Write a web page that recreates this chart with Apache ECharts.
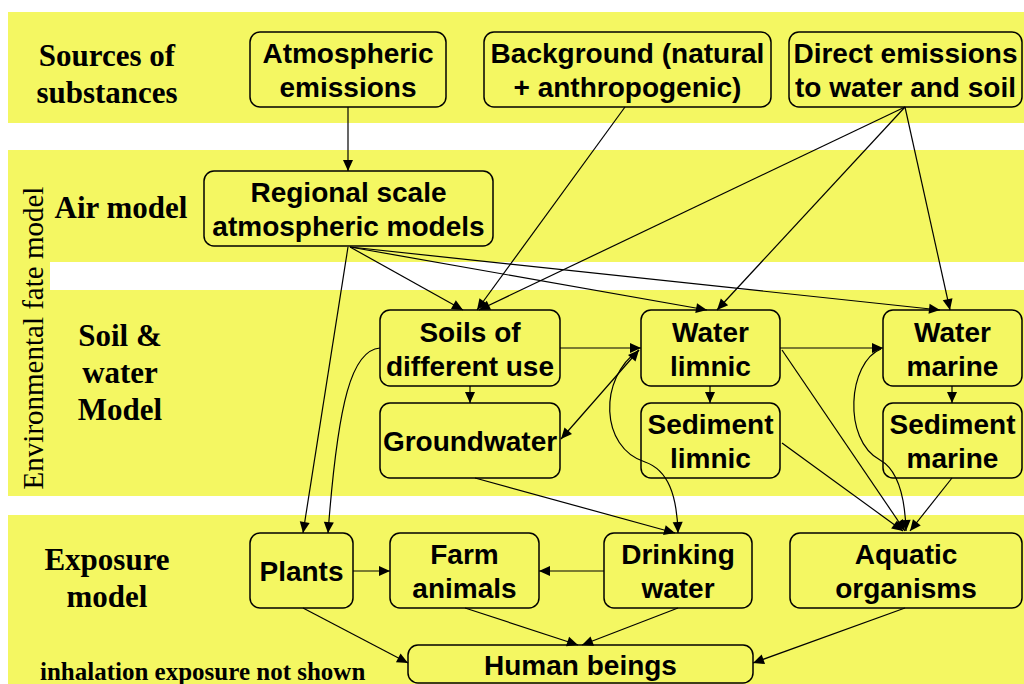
<!DOCTYPE html>
<html>
<head>
<meta charset="utf-8">
<script src="https://cdn.jsdelivr.net/npm/echarts@6/dist/echarts.min.js"></script>
<style>
  html, body { margin: 0; padding: 0; background: #fff; }
  #main { width: 1024px; height: 684px; }
</style>
</head>
<body>
<div id="main"></div>
<script>
  // ---- content ----
  var boxLabels = [
    'Atmospheric\nemissions', 'Background (natural\n+ anthropogenic)', 'Direct emissions\nto water and soil',
    'Regional scale\natmospheric models',
    'Soils of\ndifferent use', 'Groundwater', 'Water\nlimnic', 'Sediment\nlimnic', 'Water\nmarine', 'Sediment\nmarine',
    'Plants', 'Farm\nanimals', 'Drinking\nwater', 'Aquatic\norganisms', 'Human beings'
  ]
  var rowLabels = ['Sources of\nsubstances', 'Air model', 'Soil &\nwater\nModel', 'Exposure\nmodel']
  var sideLabel = 'Environmental fate model'
  var footNote = 'inhalation exposure not shown'

  // flows between boxes: [from, to]
  var links = [
    [0, 3], [1, 4], [2, 4], [2, 6], [2, 8],
    [3, 10], [3, 4], [3, 6], [3, 8],
    [4, 6], [4, 5], [5, 6], [6, 7], [6, 8], [8, 9],
    [5, 12], [6, 13], [7, 13], [9, 13],
    [10, 11], [12, 11], [10, 14], [11, 14], [12, 14], [13, 14],
    [4, 10], [6, 12], [8, 13]
  ]

  // ---- layout (chart coords, y down) ----
  var bandRects = [
    [8, 12, 1024, 123], [8, 150, 1024, 262], [8, 262, 50, 290], [8, 290, 1024, 496], [8, 515, 1024, 684]
  ]
  var boxRects = [
    [250, 32, 446, 107], [484, 32, 771, 107], [789, 32, 1022, 107],
    [204, 171, 493, 246],
    [380, 310, 560, 386], [380, 403, 560, 478], [641, 310, 780, 386], [641, 403, 780, 478],
    [883, 310, 1022, 386], [883, 403, 1022, 478],
    [250, 533, 353, 608], [390, 533, 539, 608], [604, 533, 752, 608], [790, 533, 1022, 608],
    [408, 645, 753, 683]
  ]
  var linkGeom = [
    {pts: [[348, 107], [348, 171]]},
    {pts: [[625, 107], [477, 310]]},
    {pts: [[905, 107], [479, 310]]},
    {pts: [[905, 107], [717, 310]]},
    {pts: [[905, 107], [950, 310]]},
    {pts: [[348, 247], [303, 533]]},
    {pts: [[350, 247], [463, 310]]},
    {pts: [[350, 247], [707, 310]]},
    {pts: [[350, 247], [940, 310]]},
    {pts: [[560, 348], [641, 348]]},
    {pts: [[470, 386], [470, 403]]},
    {pts: [[639, 350], [561, 439]], both: true},
    {pts: [[710, 386], [710, 403]]},
    {pts: [[780, 348], [883, 348]]},
    {pts: [[952, 386], [952, 403]]},
    {pts: [[475, 478], [675, 533]]},
    {pts: [[782, 350], [905, 531]]},
    {pts: [[782, 443], [903, 531]]},
    {pts: [[952, 478], [910, 531]]},
    {pts: [[353, 571], [390, 571]]},
    {pts: [[604, 571], [539, 571]]},
    {pts: [[303, 608], [408, 663]]},
    {pts: [[465, 608], [578, 645]]},
    {pts: [[678, 608], [582, 645]]},
    {pts: [[905, 608], [753, 663]]},
    {segs: [[[380, 348], [352, 350], [338, 400], [328, 533]]]},
    {segs: [[[639, 350], [598, 378], [600, 448], [645, 462]], [[645, 462], [668, 470], [677, 495], [678, 533]]]},
    {segs: [[[881, 349], [848, 362], [842, 440], [880, 460]], [[880, 460], [898, 470], [905, 495], [906, 531]]]}
  ]

  var YELLOW = '#f4f762'
  var LINE_W = 1.2
  var SERIF = 'bold 31px "Liberation Serif"'

  function arrowHead (from, to) {
    var dx = to[0] - from[0], dy = to[1] - from[1]
    var len = Math.sqrt(dx * dx + dy * dy) || 1
    var ux = dx / len, uy = dy / len
    var L = 11, W = 5
    var bx = to[0] - ux * L, by = to[1] - uy * L
    return {
      type: 'polygon',
      shape: {points: [to, [bx - uy * W, by + ux * W], [bx + uy * W, by - ux * W]]},
      style: {fill: '#000', stroke: null}
    }
  }

  var chart = echarts.init(document.getElementById('main'), null, {renderer: 'svg'})

  chart.setOption({
    animation: false,
    backgroundColor: '#fff',
    grid: {left: 0, right: 0, top: 0, bottom: 0},
    xAxis: {type: 'value', min: 0, max: 1024, show: false},
    yAxis: {type: 'value', min: 0, max: 684, inverse: true, show: false},
    graphic: [
      {type: 'text', x: 107, y: 74, z: 10,
        style: {text: rowLabels[0], font: SERIF, fill: '#000', align: 'center', verticalAlign: 'middle', lineHeight: 37}},
      {type: 'text', x: 121, y: 207, z: 10,
        style: {text: rowLabels[1], font: SERIF, fill: '#000', align: 'center', verticalAlign: 'middle', lineHeight: 37}},
      {type: 'text', x: 120, y: 372, z: 10,
        style: {text: rowLabels[2], font: SERIF, fill: '#000', align: 'center', verticalAlign: 'middle', lineHeight: 37}},
      {type: 'text', x: 107, y: 578, z: 10,
        style: {text: rowLabels[3], font: SERIF, fill: '#000', align: 'center', verticalAlign: 'middle', lineHeight: 37}},
      {type: 'text', x: 40, y: 671, z: 10,
        style: {text: footNote, font: 'bold 25px "Liberation Serif"', fill: '#000', align: 'left', verticalAlign: 'middle'}},
      {type: 'text', x: 33, y: 338, rotation: Math.PI / 2, z: 10,
        style: {text: sideLabel, font: '29px "Liberation Serif"', fill: '#000', align: 'center', verticalAlign: 'middle'}}
    ],
    series: [
      {
        type: 'custom',
        name: 'bands',
        z: 1,
        silent: true,
        data: bandRects.map(function (r, i) { return [i, 0] }),
        renderItem: function (params, api) {
          var r = bandRects[params.dataIndex]
          var a = api.coord([r[0], r[1]]), b = api.coord([r[2], r[3]])
          return {type: 'rect', shape: {x: a[0], y: a[1], width: b[0] - a[0], height: b[1] - a[1]}, style: {fill: YELLOW}}
        }
      },
      {
        type: 'custom',
        name: 'boxes',
        z: 2,
        silent: true,
        data: boxLabels.map(function (name, i) { return {name: name, value: [i, 0]} }),
        renderItem: function (params, api) {
          var r = boxRects[params.dataIndex]
          var a = api.coord([r[0], r[1]]), b = api.coord([r[2], r[3]])
          return {
            type: 'group',
            children: [
              {type: 'rect', shape: {x: a[0], y: a[1], width: b[0] - a[0], height: b[1] - a[1], r: 10},
                style: {fill: YELLOW, stroke: '#000', lineWidth: 1.5}},
              {type: 'text', style: {
                text: boxLabels[params.dataIndex], x: (a[0] + b[0]) / 2, y: (a[1] + b[1]) / 2 + 1,
                font: 'bold 28px "Liberation Sans"', fill: '#000',
                align: 'center', verticalAlign: 'middle', textAlign: 'center', textVerticalAlign: 'middle', lineHeight: 34
              }}
            ]
          }
        }
      },
      {
        type: 'custom',
        name: 'links',
        z: 3,
        silent: true,
        data: links,
        renderItem: function (params, api) {
          var g = linkGeom[params.dataIndex]
          var children = []
          if (g.segs) {
            g.segs.forEach(function (s) {
              var p = s.map(function (q) { return api.coord(q) })
              children.push({type: 'bezierCurve',
                shape: {x1: p[0][0], y1: p[0][1], cpx1: p[1][0], cpy1: p[1][1], cpx2: p[2][0], cpy2: p[2][1], x2: p[3][0], y2: p[3][1]},
                style: {stroke: '#000', fill: 'none', lineWidth: LINE_W}})
            })
            var last = g.segs[g.segs.length - 1]
            children.push(arrowHead(api.coord(last[2]), api.coord(last[3])))
          } else {
            var a = api.coord(g.pts[0]), b = api.coord(g.pts[1])
            children.push({type: 'line', shape: {x1: a[0], y1: a[1], x2: b[0], y2: b[1]},
              style: {stroke: '#000', fill: 'none', lineWidth: LINE_W}})
            children.push(arrowHead(a, b))
            if (g.both) children.push(arrowHead(b, a))
          }
          return {type: 'group', children: children}
        }
      }
    ]
  })
</script>
</body>
</html>
